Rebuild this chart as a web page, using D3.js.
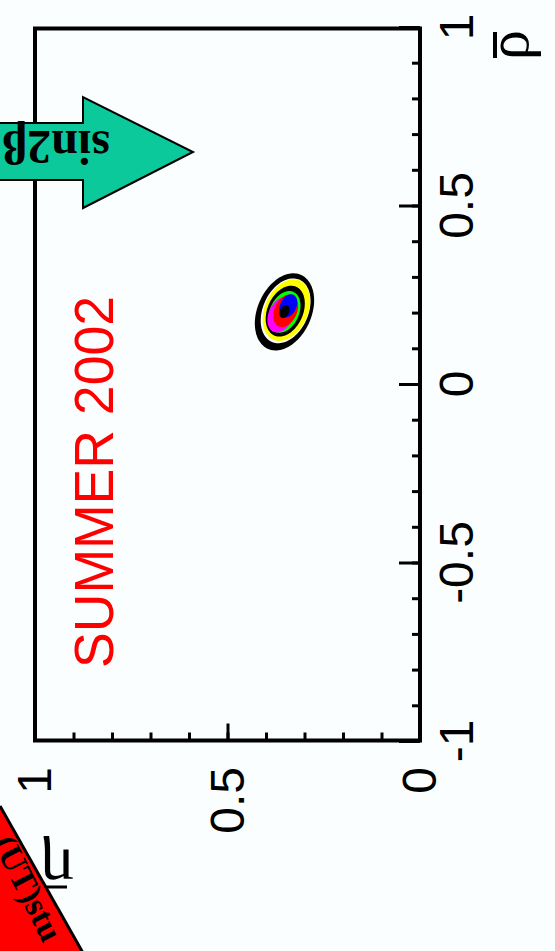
<!DOCTYPE html>
<html>
<head>
<meta charset="utf-8">
<script src="https://cdn.jsdelivr.net/npm/d3@7"></script>
<style>
  html, body { margin: 0; padding: 0; background: #fbfefe; }
  svg { display: block; }
</style>
</head>
<body>
<svg id="chart" width="555" height="951"></svg>
<script>
// ---- axis definitions -------------------------------------------------
const rhoDomain = [-1, 1];
const etaDomain = [0, 1];
const rhoMajorTicks = [-1, -0.5, 0, 0.5, 1];
const rhoTickLabels = ["-1", "-0.5", "0", "0.5", "1"];
const etaMajorTicks = [0, 0.5, 1];
const etaTickLabels = ["0", "0.5", "1"];

// ---- fit result: centre, half-widths and correlation -------------------
const fitRho = [0.202];
const fitEta = [0.352];
const fitRhoHalf = [0.108];
const fitEtaHalf = [0.077];
const fitCorrelation = [-0.30];

// nested probability regions, outermost first
const contourLevels  = [1.00, 0.84, 0.80, 0.66, 0.54, 0.46, 0.42, 0.30, 0.17];
const contourColours = ["#000000", "#fbfefe", "#ffff00", "#000000", "#00ff00",
                        "#ff00ff", "#ff0000", "#0000ff", "#000000"];
const contourRhoShift = [0, 0.003, 0.005, 0.002, 0, -0.008, 0.003, 0.017, 0.001];
const contourEtaShift = [0, -0.003, -0.005, -0.002, 0, 0.009, -0.003, -0.010, 0];

const svg = d3.select("#chart");

// the plot is laid out turned on its side: ρ̄ runs upward, η̄ runs leftward
const frame = { left: 35, right: 420, top: 28.5, bottom: 740.5 };
const rho = d3.scaleLinear().domain(rhoDomain).range([741, 27]);
const eta = d3.scaleLinear().domain(etaDomain).range([frame.right, frame.left]);

// ---- probability contours ---------------------------------------------
function regionPath(k, dRho, dEta) {
  const c = fitCorrelation[0], s = Math.sqrt(1 - c * c);
  const pts = d3.range(0, 120).map(i => {
    const t = i / 120 * 2 * Math.PI;
    return {
      eta: fitEta[0] + dEta + k * fitEtaHalf[0] * Math.cos(t),
      rho: fitRho[0] + dRho + k * fitRhoHalf[0] * (c * Math.cos(t) + s * Math.sin(t))
    };
  });
  return d3.line().x(d => eta(d.eta)).y(d => rho(d.rho)).curve(d3.curveLinearClosed)(pts);
}

svg.append("g").attr("class", "contours")
  .selectAll("path")
  .data(contourLevels)
  .join("path")
  .attr("d", (k, i) => regionPath(k, contourRhoShift[i], contourEtaShift[i]))
  .attr("fill", (k, i) => contourColours[i])
  .attr("stroke", "none");

// ---- frame --------------------------------------------------------------
svg.append("rect")
  .attr("x", frame.left).attr("y", frame.top)
  .attr("width", frame.right - frame.left).attr("height", frame.bottom - frame.top)
  .attr("fill", "none").attr("stroke", "#000").attr("stroke-width", 4);

// ---- ticks ------------------------------------------------------------
function styleAxis(g) {
  g.select(".domain").remove();
  g.selectAll(".tick line").attr("stroke", "#000").attr("stroke-width", 3);
  g.selectAll(".tick text").remove();
}

svg.append("g").attr("transform", `translate(${frame.right},0)`)
  .call(d3.axisLeft(rho).tickValues(rho.ticks(20)).tickSize(8).tickFormat(""))
  .call(styleAxis);
svg.append("g").attr("transform", `translate(${frame.right},0)`)
  .call(d3.axisLeft(rho).tickValues(rhoMajorTicks).tickSize(21).tickFormat(""))
  .call(styleAxis);

svg.append("g").attr("transform", `translate(0,${frame.bottom})`)
  .call(d3.axisTop(eta).tickValues(eta.ticks(10)).tickSize(8).tickFormat(""))
  .call(styleAxis);
svg.append("g").attr("transform", `translate(0,${frame.bottom})`)
  .call(d3.axisTop(eta).tickValues(etaMajorTicks).tickSize(17).tickFormat(""))
  .call(styleAxis);

// ---- tick labels (rotated with the plot) -------------------------------
const labelFont = "'Liberation Sans', Arial, sans-serif";

svg.append("g").selectAll("text")
  .data(rhoMajorTicks)
  .join("text")
  .attr("transform", d => `translate(473,${rho(d)}) rotate(-90)`)
  .attr("text-anchor", "middle")
  .attr("font-family", labelFont).attr("font-size", 48)
  .attr("fill", "#000")
  .text((d, i) => rhoTickLabels[i]);

svg.append("g").selectAll("text")
  .data(etaMajorTicks)
  .join("text")
  .attr("transform", d => `translate(${eta(d) + 16},767) rotate(-90)`)
  .attr("text-anchor", "end")
  .attr("font-family", labelFont).attr("font-size", 48)
  .attr("fill", "#000")
  .text((d, i) => etaTickLabels[i]);

// ---- axis titles ------------------------------------------------------
const greekFont = "'Liberation Serif', 'DejaVu Serif', serif";

const rhoTitle = svg.append("g").attr("transform", "translate(528,45) rotate(-90)");
rhoTitle.append("text")
  .attr("text-anchor", "middle")
  .attr("font-family", greekFont).attr("font-size", 60)
  .attr("fill", "#000").text("ρ");
rhoTitle.append("line")
  .attr("x1", -13).attr("x2", 13).attr("y1", -33).attr("y2", -33)
  .attr("stroke", "#000").attr("stroke-width", 4);

const etaTitle = svg.append("g").attr("transform", "translate(57,850) rotate(180)");
etaTitle.append("text")
  .attr("text-anchor", "middle")
  .attr("font-family", greekFont).attr("font-size", 64)
  .attr("fill", "#000").text("η");
etaTitle.append("line")
  .attr("x1", -10).attr("x2", 12).attr("y1", -37).attr("y2", -37)
  .attr("stroke", "#000").attr("stroke-width", 3);

// ---- period label -----------------------------------------------------
svg.append("text")
  .attr("transform", "translate(113,482) rotate(-90)")
  .attr("text-anchor", "middle")
  .attr("font-family", labelFont).attr("font-size", 56)
  .attr("textLength", 372).attr("lengthAdjust", "spacingAndGlyphs")
  .attr("fill", "#ff0000")
  .text("SUMMER 2002");

// ---- sin2β arrow --------------------------------------------------------
const arrowPts = [[-5, 123], [83, 123], [83, 97], [193, 152], [83, 208], [83, 180], [-5, 180]];
svg.append("polygon")
  .attr("points", arrowPts.map(p => p.join(",")).join(" "))
  .attr("fill", "#0cc99b").attr("stroke", "#000").attr("stroke-width", 2)
  .attr("stroke-linejoin", "miter");
svg.append("text")
  .attr("transform", "translate(110,131) rotate(180)")
  .attr("font-family", greekFont).attr("font-weight", "bold").attr("font-size", 48)
  .attr("fill", "#000")
  .text("sin2β");

// ---- corner banner ----------------------------------------------------
svg.append("polygon")
  .attr("points", "0,806 87,960 0,960")
  .attr("fill", "#ff0000");
svg.append("line")
  .attr("x1", 0).attr("y1", 806).attr("x2", 87).attr("y2", 960)
  .attr("stroke", "#000").attr("stroke-width", 3);
svg.append("text")
  .attr("transform", "translate(-8,843) rotate(63)")
  .attr("font-family", greekFont).attr("font-weight", "bold").attr("font-size", 34)
  .attr("fill", "#000")
  .text("(UT)stu");
</script>
</body>
</html>
